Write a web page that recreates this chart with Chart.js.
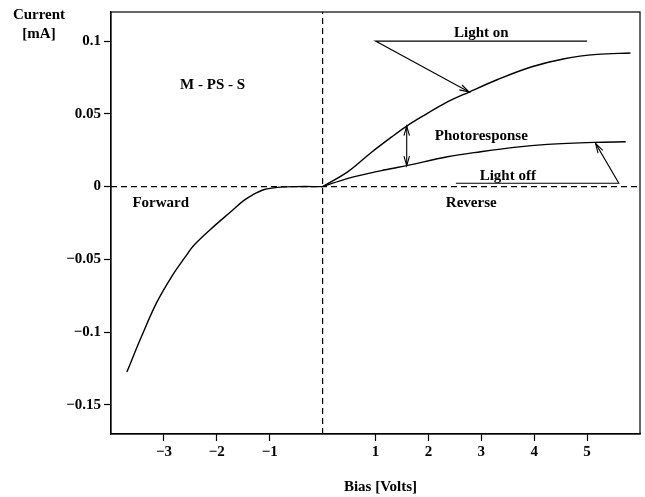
<!DOCTYPE html>
<html>
<head>
<meta charset="utf-8">
<script src="https://cdn.jsdelivr.net/npm/chart.js@4/dist/chart.umd.min.js"></script>
<style>
  html, body { margin: 0; padding: 0; background: #fff; }
  canvas { display: block; }
</style>
</head>
<body>
<canvas id="iv" width="645" height="497"></canvas>
<script>
// ─── Data ─────────────────────────────────────────────────────────────────────
const biasForward    = [-3.70, -3.42, -3.14, -2.85, -2.60, -2.42, -2.04, -1.72, -1.50, -1.32, -1.10, -0.85, -0.50, 0];
const currentForward = [-0.1274, -0.1027, -0.0799, -0.0616, -0.0485, -0.0398, -0.0268, -0.0168, -0.0098, -0.0056, -0.0020, -0.0005, 0, 0];

const biasLightOn    = [0, 0.48, 0.92, 1.30, 1.59, 1.92, 2.36, 2.77, 3.31, 3.94, 4.57, 5.19, 5.82];
const currentLightOn = [0, 0.0103, 0.0235, 0.034, 0.0416, 0.049, 0.0582, 0.065, 0.0736, 0.0822, 0.0879, 0.0909, 0.0918];

const biasLightOff    = [0, 0.48, 1.11, 1.59, 2.36, 2.99, 3.62, 4.25, 5.13, 5.73];
const currentLightOff = [0, 0.0057, 0.011, 0.0144, 0.0205, 0.024, 0.027, 0.029, 0.0304, 0.0308];

const xTicks = [-3, -2, -1, 1, 2, 3, 4, 5];
const yTicks = [0.1, 0.05, 0, -0.05, -0.1, -0.15];

// leader lines of the annotations (data units)
const lightOnLeaderX  = [5.0, 1.0, 2.77];
const lightOnLeaderY  = [0.1, 0.1, 0.065];
const lightOffLeaderX = [2.52, 5.6, 5.16];
const lightOffLeaderY = [0.0023, 0.0023, 0.0297];
const photoArrowX     = [1.59, 1.59];
const photoArrowY     = [0.0416, 0.0144];

const noteTexts = ["M - PS - S", "Forward", "Reverse", "Light on", "Photoresponse", "Light off"];
const noteX     = [-2.08, -3.06, 2.81, 3.0, 3.0, 3.5];
const noteY     = [0.0696, -0.011, -0.011, 0.1055, 0.0345, 0.0075];

const FONT = "'Liberation Serif', 'DejaVu Serif', serif";

// ─── Helpers ──────────────────────────────────────────────────────────────────
const pts = (xs, ys) => xs.map((x, i) => ({ x, y: ys[i] }));
const minus = v => (v < 0 ? "\u2212" : "") + String(Math.abs(v));

function curve(xs, ys) {
  return {
    data: pts(xs, ys), showLine: true, borderColor: "#000", borderWidth: 1.4,
    pointRadius: 0, tension: 0.35
  };
}
function straight(xs, ys, dash) {
  return {
    data: pts(xs, ys), showLine: true, borderColor: "#000", borderWidth: dash ? 1.2 : 1.1,
    borderDash: dash || [], pointRadius: 0, tension: 0
  };
}

function arrowHead(ctx, x0, y0, x1, y1) {
  const a = Math.atan2(y1 - y0, x1 - x0), len = 10, spread = 0.28;
  ctx.beginPath();
  ctx.moveTo(x1 - len * Math.cos(a - spread), y1 - len * Math.sin(a - spread));
  ctx.lineTo(x1, y1);
  ctx.lineTo(x1 - len * Math.cos(a + spread), y1 - len * Math.sin(a + spread));
  ctx.stroke();
}

// ─── Overlay: frame, arrowheads, notes, axis titles ───────────────────────────
const overlay = {
  id: "overlay",
  afterDatasetsDraw(chart) {
    const { ctx, chartArea: ca, scales: { x, y } } = chart;
    const px = v => x.getPixelForValue(v), py = v => y.getPixelForValue(v);
    ctx.save();
    ctx.strokeStyle = "#000";
    ctx.lineWidth = 1.2;
    ctx.strokeRect(ca.left, ca.top, ca.right - ca.left, ca.bottom - ca.top);

    ctx.lineWidth = 1.1;
    const n1 = lightOnLeaderX.length - 1;
    arrowHead(ctx, px(lightOnLeaderX[n1 - 1]), py(lightOnLeaderY[n1 - 1]), px(lightOnLeaderX[n1]), py(lightOnLeaderY[n1]));
    const n2 = lightOffLeaderX.length - 1;
    arrowHead(ctx, px(lightOffLeaderX[n2 - 1]), py(lightOffLeaderY[n2 - 1]), px(lightOffLeaderX[n2]), py(lightOffLeaderY[n2]));
    arrowHead(ctx, px(photoArrowX[1]), py(photoArrowY[1]), px(photoArrowX[0]), py(photoArrowY[0]));
    arrowHead(ctx, px(photoArrowX[0]), py(photoArrowY[0]), px(photoArrowX[1]), py(photoArrowY[1]));

    ctx.fillStyle = "#000";
    ctx.font = "bold 15px " + FONT;
    ctx.textAlign = "center";
    ctx.textBaseline = "middle";
    noteTexts.forEach((t, i) => ctx.fillText(t, px(noteX[i]), py(noteY[i])));

    // axis titles
    ctx.fillText("Current", ca.left - 72, ca.top + 3);
    ctx.fillText("[mA]", ca.left - 72, ca.top + 22);
    ctx.fillText("Bias [Volts]", (ca.left + ca.right) / 2 + 5, ca.bottom + 53);
    ctx.restore();
  }
};

// ─── Chart ────────────────────────────────────────────────────────────────────
Chart.defaults.font.family = FONT;
Chart.defaults.font.size = 15;
Chart.defaults.color = "#000";

new Chart(document.getElementById("iv"), {
  type: "scatter",
  data: {
    datasets: [
      straight([-4, 6], [0, 0], [6, 4]),
      straight([0, 0], [-0.17, 0.12], [6, 4]),
      curve(biasForward, currentForward),
      curve(biasLightOn, currentLightOn),
      curve(biasLightOff, currentLightOff),
      straight(lightOnLeaderX, lightOnLeaderY),
      straight(lightOffLeaderX, lightOffLeaderY),
      straight(photoArrowX, photoArrowY)
    ]
  },
  options: {
    responsive: false,
    devicePixelRatio: 1,
    animation: false,
    layout: { padding: { top: 11, right: 5, left: 0, bottom: 0 } },
    plugins: { legend: { display: false }, tooltip: { enabled: false } },
    scales: {
      x: {
        type: "linear", min: -4, max: 6,
        afterBuildTicks: s => { s.ticks = xTicks.map(v => ({ value: v })); },
        afterFit: s => { s.height = 63; },
        ticks: { callback: v => minus(v), padding: 2, font: { weight: "bold" }, maxRotation: 0 },
        grid: { drawOnChartArea: false, tickLength: 7, tickColor: "#000", tickWidth: 1.2 },
        border: { color: "#000", width: 1.2 }
      },
      y: {
        type: "linear", min: -0.17, max: 0.12,
        afterBuildTicks: s => { s.ticks = yTicks.map(v => ({ value: v })); },
        afterFit: s => { s.width = 111; },
        ticks: { callback: v => minus(v), padding: 3, font: { weight: "bold" } },
        grid: { drawOnChartArea: false, tickLength: 7, tickColor: "#000", tickWidth: 1.2 },
        border: { color: "#000", width: 1.2 }
      }
    }
  },
  plugins: [overlay]
});
</script>
</body>
</html>
